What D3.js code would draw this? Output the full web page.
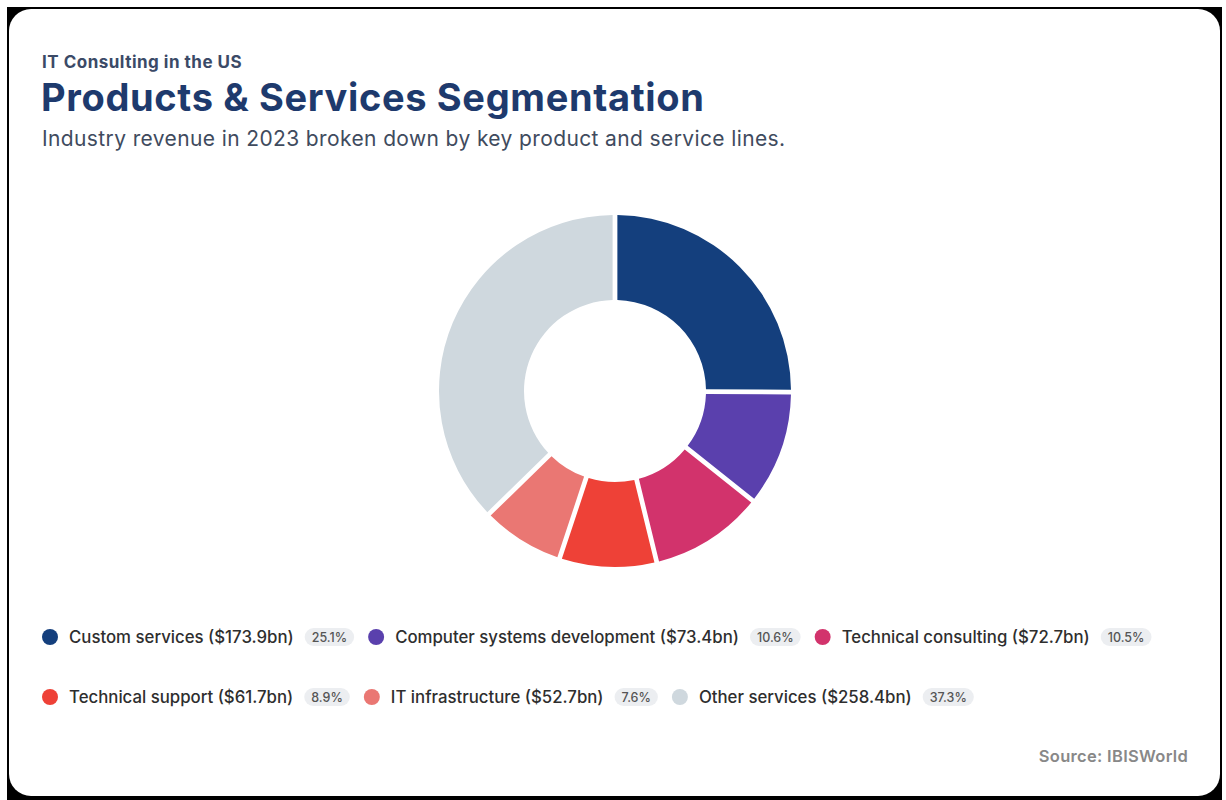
<!DOCTYPE html>
<html><head><meta charset="utf-8">
<script src="https://cdn.jsdelivr.net/npm/d3@7"></script>
<style>
html,body{margin:0;padding:0;background:#fff;}
svg{display:block;font-family:Inter,"Noto Sans",sans-serif;}
</style></head>
<body>
<svg id="chart" width="1226" height="800"></svg>
<script>
const categories = ["Custom services","Computer systems development","Technical consulting","Technical support","IT infrastructure","Other services"];
const revenues = [173.9, 73.4, 72.7, 61.7, 52.7, 258.4];
const shares = [25.1, 10.6, 10.5, 8.9, 7.6, 37.3];
const colors = ["#143f7d","#5a40ad","#d2336c","#ee4137","#ea7773","#cfd8de"];

const svg = d3.select("#chart");
// frame
svg.append("rect").attr("x",7).attr("y",7).attr("width",1215).attr("height",800).attr("fill","#000");
svg.append("rect").attr("x",9).attr("y",9).attr("width",1211).attr("height",787).attr("rx",22).attr("fill","#fff");

svg.append("text").attr("x",42).attr("y",68).attr("font-size",17).attr("font-weight",700)
  .attr("letter-spacing",0.5).attr("fill","#3b4a67").text("IT Consulting in the US");
svg.append("text").attr("x",41).attr("y",111).attr("font-size",38).attr("font-weight",700)
  .attr("letter-spacing",0.65).attr("fill","#1e3a6d").text("Products & Services Segmentation");
svg.append("text").attr("x",42).attr("y",146).attr("font-size",21).attr("font-weight",400)
  .attr("letter-spacing",0.38).attr("fill","#3f4b5e").text("Industry revenue in 2023 broken down by key product and service lines.");

// donut
const data = categories.map((c,i)=>({name:c, value:revenues[i], share:shares[i], color:colors[i]}));
const pie = d3.pie().sort(null).value(d=>d.value);
const arc = d3.arc().innerRadius(91).outerRadius(176).padAngle(0.027).padRadius(176);
const g = svg.append("g").attr("transform","translate(615,391)");
g.selectAll("path").data(pie(data)).join("path").attr("d",arc).attr("fill",d=>d.data.color);

// legend
const leg = svg.append("g");
const maxX = 1190;
let x = 42, y = 637;
data.forEach((d,i)=>{
  const item = leg.append("g");
  item.append("circle").attr("cx",8).attr("cy",0).attr("r",8).attr("fill",d.color);
  const t = item.append("text").attr("x",27).attr("y",6).attr("font-size",16.8).attr("font-weight",500)
    .attr("fill","#2e2e2e").text(`${d.name} ($${d.value.toFixed(1)}bn)`);
  const tw = t.node().getComputedTextLength();
  const bx = 27 + tw + 11;
  const bt = item.append("text").attr("font-size",12.5).attr("font-weight",500).attr("fill","#555")
    .attr("y",5).text(d.share.toFixed(1)+"%");
  const btw = bt.node().getComputedTextLength();
  const bw = btw + 14;
  item.insert("rect","text:last-child").attr("x",bx).attr("y",-9).attr("width",bw).attr("height",18)
    .attr("rx",9).attr("fill","#eceef1");
  bt.attr("x",bx+7);
  const w = bx + bw;
  if (x + w > maxX) { x = 42; y += 60; }
  item.attr("transform",`translate(${x},${y})`);
  x += w + 14;
});

svg.append("text").attr("x",1188).attr("y",762).attr("text-anchor","end").attr("font-size",16.5)
  .attr("font-weight",600).attr("letter-spacing",0.3).attr("fill","#888").text("Source: IBISWorld");
</script>
</body></html>
